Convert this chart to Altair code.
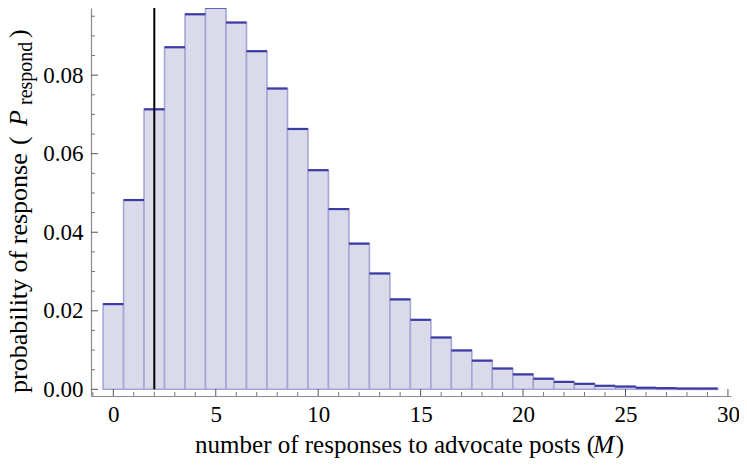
import altair as alt
import pandas as pd

# ---- data ----
M = list(range(30))
P = [0.0217, 0.0482, 0.0713, 0.0871, 0.0955, 0.0972, 0.0934, 0.0861, 0.0766, 0.0663,
     0.0558, 0.0459, 0.0371, 0.0295, 0.0229, 0.0177, 0.0132, 0.0099, 0.0073, 0.0053,
     0.0038, 0.0027, 0.0019, 0.0014, 0.0009, 0.0007, 0.0004, 0.0003, 0.0002, 0.0002]
threshold_M = [2]

x_major = [0, 5, 10, 15, 20, 25, 30]
x_minor = [-1] + [i for i in range(1, 30) if i % 5 != 0]
y_major = [0.0, 0.02, 0.04, 0.06, 0.08]
y_minor = [0.005, 0.01, 0.015, 0.025, 0.03, 0.035, 0.045, 0.05, 0.055,
           0.065, 0.07, 0.075, 0.085, 0.09, 0.095]

FONT = "Liberation Serif"
XDOM = [-1.09, 30.15]
YDOM = [-0.0017, 0.0971]
W, H = 640, 388

xs = alt.Scale(domain=XDOM, nice=False, zero=False)
ys = alt.Scale(domain=YDOM, nice=False, zero=False)

bars_df = pd.DataFrame({"M": M, "P": P})
base = alt.Chart(bars_df).transform_calculate(
    lo="datum.M - 0.5", hi="datum.M + 0.5", zero="0")

rects = base.mark_rect(fill="#dadaeb", stroke="#a6a6d6", strokeWidth=1.6).encode(
    x=alt.X("lo:Q", scale=xs, title=None, axis=alt.Axis(
        values=x_major, format="d", ticks=False, grid=False, title=None,
        domainColor="#8c8c8c", domainWidth=1.2, labelFont=FONT, labelFontSize=23,
        labelColor="black", labelPadding=7, labelFlush=False)),
    x2="hi:Q",
    y=alt.Y("zero:Q", scale=ys, title=None, axis=alt.Axis(
        values=y_major, format=".2f", ticks=False, grid=False, title=None,
        domainColor="#8c8c8c", domainWidth=1.2, labelFont=FONT, labelFontSize=23,
        labelColor="black", labelPadding=8, labelBaseline="middle", labelFlush=False)),
    y2="P:Q",
)

tops = base.mark_rule(color="#3b3ba6", strokeWidth=2.2).encode(
    x=alt.X("lo:Q", title=None), x2="hi:Q", y=alt.Y("P:Q", title=None))

vline = alt.Chart(pd.DataFrame({"M": threshold_M, "y0": [0.0], "y1": [YDOM[1]]})).mark_rule(
    color="black", strokeWidth=2).encode(
    x=alt.X("M:Q", title=None), y=alt.Y("y0:Q", title=None), y2="y1:Q")

xmaj = alt.Chart(pd.DataFrame({"v": x_major})).mark_rule(color="#555555", strokeWidth=1).encode(
    x=alt.X("v:Q", title=None), y=alt.value(H), y2=alt.value(H - 7))
xmin = alt.Chart(pd.DataFrame({"v": x_minor})).mark_rule(color="#777777", strokeWidth=1).encode(
    x=alt.X("v:Q", title=None), y=alt.value(H), y2=alt.value(H - 4))
ymaj = alt.Chart(pd.DataFrame({"v": y_major})).mark_rule(color="#555555", strokeWidth=1).encode(
    y=alt.Y("v:Q", title=None), x=alt.value(0), x2=alt.value(7))
ymin = alt.Chart(pd.DataFrame({"v": y_minor})).mark_rule(color="#777777", strokeWidth=1).encode(
    y=alt.Y("v:Q", title=None), x=alt.value(0), x2=alt.value(4))

one = pd.DataFrame({"k": [0]})

def txt(s, x, y, size=25, angle=0, align="left", style="normal"):
    kw = dict(text=s, font=FONT, fontSize=size, align=align, baseline="alphabetic",
              color="black", fontStyle=style)
    if angle:
        kw["angle"] = angle
    return alt.Chart(one).mark_text(**kw).encode(x=alt.value(x), y=alt.value(y))

# x-axis title (plot coordinates)
XTB = 445
xt1 = txt("number of responses to advocate posts (", 504, XTB, align="right")
xt2 = txt("M", 523, XTB, align="right", style="italic")
xt3 = txt(")", 533, XTB, align="right")

# y-axis title, rotated (reads bottom to top)
YB = -64
yt1 = txt("probability of response", YB, 385, size=26, angle=270)
yt2 = txt("(", YB, 137, size=26, angle=270)
yt3 = txt("P", YB, 118, size=26, angle=270, style="italic")
yt4 = txt("respond", YB + 5, 97, size=20, angle=270)
yt5 = txt(")", YB, 30, size=26, angle=270)

chart = alt.layer(
    rects, tops, vline, xmaj, xmin, ymaj, ymin,
    xt1, xt2, xt3, yt1, yt2, yt3, yt4, yt5
).properties(
    width=W, height=H,
    autosize=alt.AutoSizeParams(type="none"),
    padding={"left": 83, "top": 0, "right": 8, "bottom": 70},
).configure_view(stroke=None)

chart.save("out.html", embed_options={"renderer": "svg", "actions": False})
